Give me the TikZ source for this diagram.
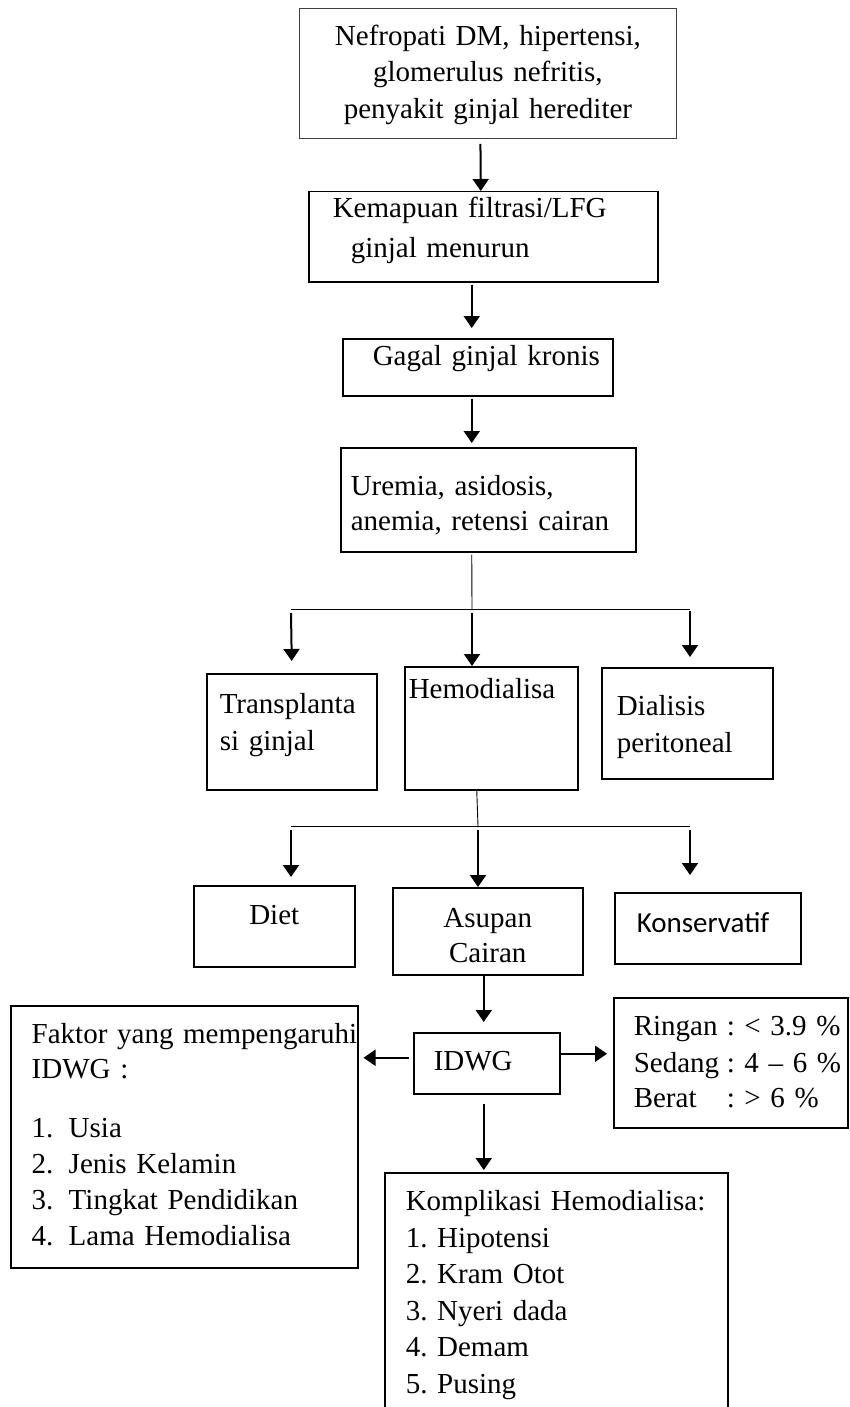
\documentclass[tikz,border=0pt]{standalone}
\usepackage{fontspec}
\setmainfont{Liberation Serif}
\newfontfamily\carlito{Carlito}
\usepackage{tikz}
\usetikzlibrary{arrows.meta}
\usetikzlibrary{calc}

\begin{document}
\begin{tikzpicture}[x=1pt,y=1pt,font=\fontsize{29}{36}\selectfont\frenchspacing,
	kotak/.style={draw,line width=1.5pt,inner xsep=4pt,inner ysep=0pt,anchor=north west,align=left},
	panah/.style={-{Triangle[width=16pt,length=12pt]},line width=2pt},
	garis/.style={line width=0.9pt}]
					\useasboundingbox (0,0) rectangle (849,-1407);
					% kotak-kotak alur
					\node[kotak,draw=black!75,line width=0.9pt,align=center,text width=369pt,text height=37pt,text depth=93pt] (nefro) at (299,-8)
						{Nefropati DM, hipertensi,\\[0.5pt]glomerulus nefritis,\\[0.5pt]penyakit ginjal herediter};
					\node[kotak,text width=341pt,text height=26pt,text depth=64pt] (kfl) at (308,-191)
						{\hspace*{20pt}Kemapuan filtrasi/LFG\\[4pt]\hspace*{38pt}ginjal menurun};
					\node[kotak,text width=262pt,text height=27pt,text depth=30pt] (ggk) at (342,-338)
						{\hspace*{26pt}Gagal ginjal kronis};
					\node[kotak,text width=287pt,text height=48pt,text depth=56pt] (uremia) at (340,-447)
						{\hspace*{6pt}Uremia, asidosis,\\[-1pt]\hspace*{6pt}anemia, retensi cairan};
					\node[kotak,text width=162pt,text height=40pt,text depth=76pt] (tx) at (206,-673)
						{\hspace*{9pt}Transplanta\\[1pt]\hspace*{9pt}si ginjal};
					\node[kotak,text width=165pt,text height=32pt,text depth=91pt] (hd) at (404,-666)
						{Hemodialisa};
					\node[kotak,text width=163pt,text height=48pt,text depth=63pt] (dp) at (601,-667)
						{\hspace*{11pt}Dialisis\\[1pt]\hspace*{11pt}peritoneal};
					\node[kotak,align=center,text width=153pt,text height=39pt,text depth=42pt] (diet) at (193,-885)
						{Diet};
					\node[kotak,align=center,text width=182pt,text height=40pt,text depth=47pt] (asupan) at (392,-887)
						{Asupan\\[-1pt]Cairan};
					\node[kotak,text width=178pt,text height=40pt,text depth=31pt,font=\carlito\fontsize{29}{36}\selectfont] (kons) at (614,-892)
						{\hspace*{18pt}Konservatif};
					\node[kotak,text width=138pt,text height=38pt,text depth=23pt] (idwg) at (413,-1032)
						{\hspace*{16pt}IDWG};
					\node[kotak,text width=339pt,text height=38pt,text depth=224pt] (faktor) at (10,-1005)
						{\hspace*{17pt}\mbox{Faktor yang mempengaruhi}\\[-1pt]
						\hspace*{17pt}\mbox{IDWG :}\\[23pt]
						\hspace*{17pt}\makebox[37pt][l]{1.}Usia\\
						\hspace*{17pt}\makebox[37pt][l]{2.}\mbox{Jenis Kelamin}\\
						\hspace*{17pt}\makebox[37pt][l]{3.}\mbox{Tingkat Pendidikan}\\
						\hspace*{17pt}\makebox[37pt][l]{4.}\mbox{Lama Hemodialisa}};
					\node[kotak,text width=226pt,text height=38pt,text depth=92pt] (ringan) at (613,-997)
						{\hspace*{16pt}\mbox{\makebox[93pt][l]{Ringan}: < 3.9 \%}\\[1pt]
						\hspace*{16pt}\mbox{\makebox[93pt][l]{Sedang}: 4 -- 6 \%}\\[-1pt]
						\hspace*{16pt}\mbox{\makebox[93pt][l]{Berat}: > 6 \%}};
					\node[kotak,text width=335pt,text height=38pt,text depth=205pt] (komp) at (384,-1172)
						{\hspace*{17pt}\mbox{Komplikasi Hemodialisa:}\\[0.5pt]
						\hspace*{17pt}\mbox{1. Hipotensi}\\[0.5pt]
						\hspace*{17pt}\mbox{2. Kram Otot}\\[0.5pt]
						\hspace*{17pt}\mbox{3. Nyeri dada}\\[0.5pt]
						\hspace*{17pt}\mbox{4. Demam}\\[0.5pt]
						\hspace*{17pt}\mbox{5. Pusing}};
					% titik cabang
					\coordinate (ki1) at (291,-609);
					\coordinate (te1) at (472,-609);
					\coordinate (ka1) at (690,-609);
					\coordinate (ki2) at (291,-826);
					\coordinate (te2) at (478,-826);
					\coordinate (ka2) at (690,-826);
					% panah
					\draw[panah] ([xshift=-7.5pt,yshift=-5pt]nefro.south) -- ([xshift=-2.5pt]kfl.north);
					\draw[panah] ([xshift=-11.5pt,yshift=-2pt]kfl.south) -- ($(ggk.north)+(-6,10)$);
					\draw[panah] ([xshift=-6pt,yshift=-2pt]ggk.south) -- ($(uremia.north)+(-16.5,4)$);
					\draw[garis] ([xshift=-16.5pt,yshift=-2pt]uremia.south) -- (te1);
					\draw[garis] (ki1) -- (ka1);
					\draw[panah] ([yshift=-4pt]ki1) -- ($(tx.north)+(0,12)$);
					\draw[panah] ([yshift=-4pt]te1) -- (hd.north -| te1);
					\draw[panah] ([yshift=-2pt]ka1) -- ($(dp.north -| ka1)+(0,10)$);
					\draw[garis] ([xshift=-14.5pt]hd.south) -- (te2);
					\draw[garis] (ki2) -- (ka2);
					\draw[panah] ([yshift=-4pt]ki2) -- ($(diet.north -| ki2)+(0,8)$);
					\draw[panah] ([yshift=-4pt]te2) -- (asupan.north -| te2);
					\draw[panah] ([yshift=-4pt]ka2) -- ($(kons.north -| ka2)+(0,17)$);
					\draw[panah] ([xshift=-4pt]asupan.south) -- ($(idwg.north)+(-3,10)$);
					\draw[panah] ([xshift=-4pt,yshift=5.5pt]idwg.west) -- ($(faktor.east |- idwg.west)+(5,5.5)$);
					\draw[panah] ([yshift=9.5pt]idwg.east) -- ($(ringan.west |- idwg.east)+(-6,9.5)$);
					\draw[panah] ([xshift=-3pt,yshift=-9pt]idwg.south) -- ($(komp.north -| idwg.south)+(-3,2)$);
				\end{tikzpicture}
\end{document}
